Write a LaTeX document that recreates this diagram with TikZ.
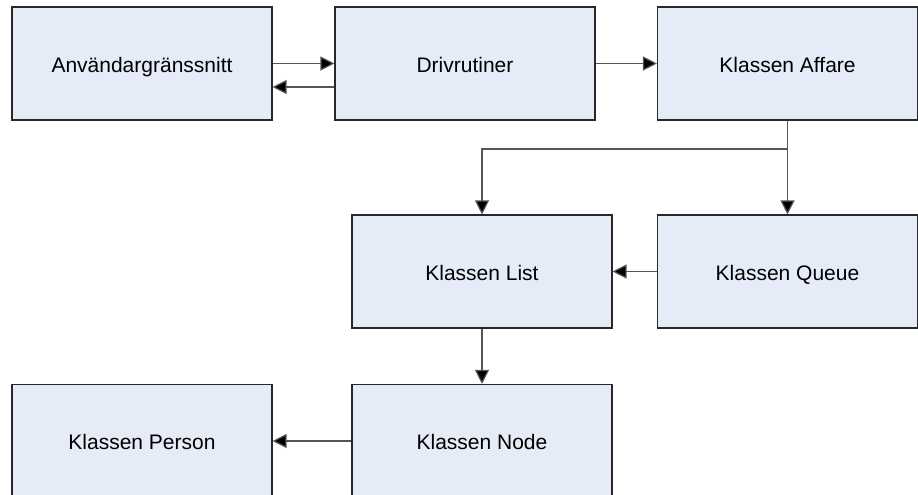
\documentclass[tikz,border=0pt]{standalone}
\usepackage{fontspec}
\setmainfont{Liberation Sans}
\usetikzlibrary{arrows.meta}
\definecolor{boxfill}{RGB}{230,236,247}
\definecolor{boxline}{RGB}{40,40,40}
\definecolor{conline}{RGB}{85,85,85}
\tikzset{
  klass/.style={draw=boxline, line width=1.1pt, fill=boxfill, minimum width=260pt, minimum height=113pt, inner sep=0pt, font=\fontsize{21pt}{24pt}\selectfont, text=black, text height=19pt, text depth=2pt},
  conn/.style={draw=conline, line width=1.2pt, -{Triangle[length=14pt,width=14pt,fill=black]}}
}
\begin{document}
\begin{tikzpicture}[x=1pt,y=-1pt]
\useasboundingbox (0,0) rectangle (918,495);
\node[klass] (anv) at (142,63.5) {Användargränssnitt};
\node[klass] (drv) at (465,63.5) {Drivrutiner};
\node[klass] (aff) at (787.5,63.5) {Klassen Affare};
\node[klass] (lst) at (482,271.5) {Klassen List};
\node[klass] (que) at (787.5,271.5) {Klassen Queue};
\node[klass] (per) at (142,441) {Klassen Person};
\node[klass] (nod) at (482,441) {Klassen Node};
\coordinate (j) at (788,149);
\draw[conn] (anv.east) -- (drv.west);
\draw[conn] ([yshift=-23.5pt]drv.west) -- ([yshift=-23.5pt]anv.east);
\draw[conn] (drv.east) -- (aff.west);
\draw[conn] (aff.south) -- (que.north);
\draw[conn] (j) -| (lst.north);
\draw[conn] (que.west) -- (lst.east);
\draw[conn] (lst.south) -- (nod.north);
\draw[conn] (nod.west) -- (per.east);
\end{tikzpicture}
\end{document}
